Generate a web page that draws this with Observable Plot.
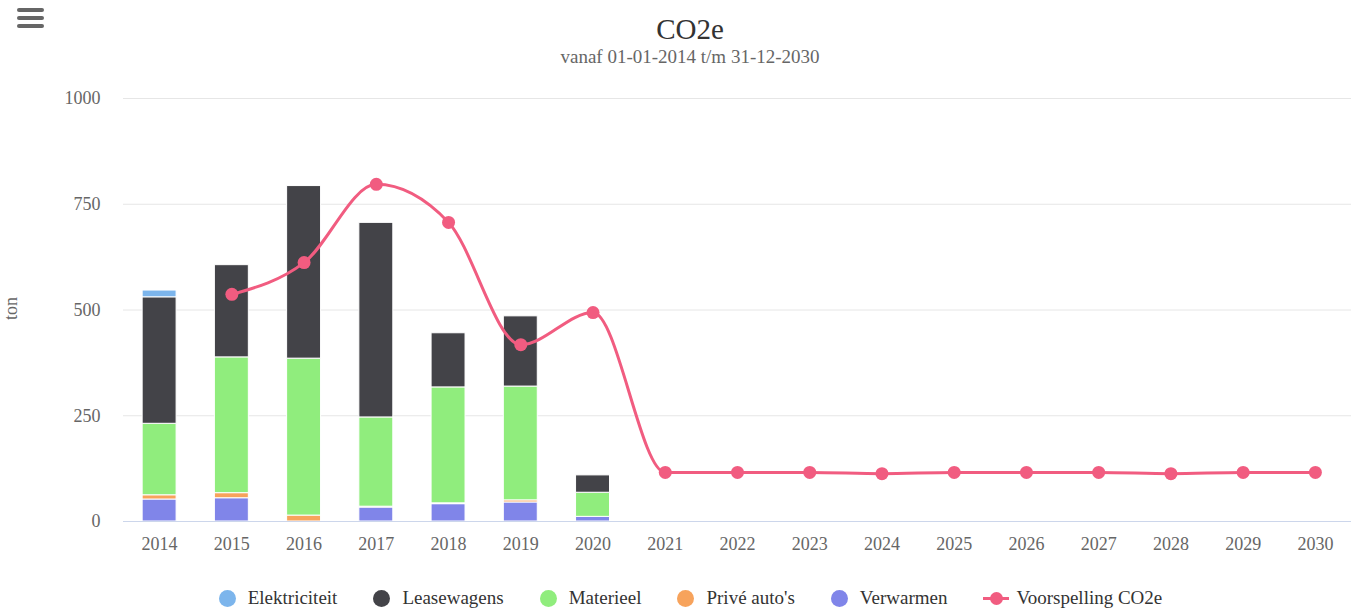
<!DOCTYPE html>
<html>
<head>
<meta charset="utf-8">
<script src="https://cdn.jsdelivr.net/npm/d3@7"></script>
<script src="https://cdn.jsdelivr.net/npm/@observablehq/plot@0.6"></script>
<style>
  html, body { margin: 0; padding: 0; background: #fff; }
  body { width: 1359px; height: 612px; position: relative; overflow: hidden; font-family: "Liberation Serif", serif; }
  #menu { position: absolute; left: 17px; top: 8px; width: 27px; }
  #menu div { height: 4px; background: #666; border-radius: 2px; margin-bottom: 4px; }
  #title { position: absolute; top: 13px; left: 0; width: 1380px; text-align: center; font-size: 29px; color: #333; line-height: 32px; }
  #subtitle { position: absolute; top: 46px; left: 0; width: 1380px; text-align: center; font-size: 19px; color: #666; line-height: 22px; }
  #chart { position: absolute; top: 70px; left: 0; }
  #ylabel { position: absolute; left: -4px; top: 298px; font-size: 18px; color: #666; transform: rotate(-90deg); transform-origin: center; width: 30px; text-align: center; }
  #legend { position: absolute; top: 587px; left: 0; width: 1381px; display: flex; justify-content: center; font-size: 19px; color: #333; }
  .item { display: flex; align-items: center; margin: 0 18px; }
  .sw { width: 17px; height: 17px; border-radius: 50%; margin-right: 12px; }
  .ln { position: relative; width: 26px; height: 16px; margin-right: 7px; }
  .ln .bar { position: absolute; left: 0; top: 7px; width: 26px; height: 2.5px; }
  .ln .dot { position: absolute; left: 6.5px; top: 2px; width: 13px; height: 13px; border-radius: 50%; }
</style>
</head>
<body>
<div id="menu"><div></div><div></div><div></div></div>
<div id="title">CO2e</div>
<div id="subtitle">vanaf 01-01-2014 t/m 31-12-2030</div>
<div id="ylabel">ton</div>
<div id="chart"></div>
<div id="legend"></div>
<script>
const years = ["2014","2015","2016","2017","2018","2019","2020","2021","2022","2023","2024","2025","2026","2027","2028","2029","2030"];
const elektriciteit = [16, 0, 0, 0, 0, 0, 0];
const leasewagens   = [299, 218, 408, 460, 128, 166, 41];
const materieel     = [169, 321, 371, 211, 274, 269, 57];
const priveAutos    = [10, 12, 14, 2, 2, 5, 0];
const verwarmen     = [52, 55, 0, 33, 41, 45, 11];
const voorspelling  = [null, 537, 612, 797, 707, 418, 494, 116, 116, 116, 113, 116, 116, 116, 113, 116, 116];
const yTicks = [0, 250, 500, 750, 1000];

const seriesNames = ["Elektriciteit", "Leasewagens", "Materieel", "Privé auto's", "Verwarmen"];
const seriesColors = ["#7cb5ec", "#434348", "#90ed7d", "#f7a35c", "#8085e9"];
const lineName = "Voorspelling CO2e";
const lineColor = "#f15c80";

// stacking order bottom -> top
const stackOrder = [
  ["Verwarmen", verwarmen],
  ["Privé auto's", priveAutos],
  ["Materieel", materieel],
  ["Leasewagens", leasewagens],
  ["Elektriciteit", elektriciteit]
];
const bars = [];
years.forEach((yr, i) => {
  stackOrder.forEach(([name, arr]) => {
    const v = arr[i];
    if (v != null && v > 0) bars.push({year: yr, series: name, value: v});
  });
});
const linePts = years.map((yr, i) => ({year: yr, value: voorspelling[i]})).filter(d => d.value != null);

const chart = Plot.plot({
  width: 1359,
  height: 500,
  marginLeft: 123,
  marginRight: 8,
  marginTop: 28,
  marginBottom: 49,
  style: {fontFamily: "Liberation Serif", fontSize: "18px", color: "#666", background: "transparent"},
  x: {domain: years, paddingInner: 0.53, paddingOuter: 0.265, round: false, label: null, tickSize: 0, tickPadding: 16},
  y: {domain: [0, 1000], ticks: yTicks, tickFormat: d3.format("d"), label: null, tickSize: 0, tickPadding: 23},
  color: {domain: seriesNames, range: seriesColors},
  marks: [
    Plot.ruleY(yTicks.filter(d => d > 0), {stroke: "#e6e6e6", strokeWidth: 1}),
    Plot.barY(bars, Plot.stackY({x: "year", y: "value", fill: "series", stroke: "white", strokeWidth: 1, order: null})),
    Plot.ruleY([0], {stroke: "#ccd6eb", strokeWidth: 1}),
    Plot.line(linePts, {x: "year", y: "value", stroke: lineColor, strokeWidth: 3, curve: "monotone-x"}),
    Plot.dot(linePts, {x: "year", y: "value", fill: lineColor, r: 6.5})
  ]
});
document.getElementById("chart").appendChild(chart);

const legend = document.getElementById("legend");
seriesNames.forEach((n, i) => {
  const it = document.createElement("div");
  it.className = "item";
  it.innerHTML = `<div class="sw" style="background:${seriesColors[i]}"></div><span>${n}</span>`;
  legend.appendChild(it);
});
const li = document.createElement("div");
li.className = "item";
li.innerHTML = `<div class="ln"><div class="bar" style="background:${lineColor}"></div><div class="dot" style="background:${lineColor}"></div></div><span>${lineName}</span>`;
legend.appendChild(li);
</script>
</body>
</html>
